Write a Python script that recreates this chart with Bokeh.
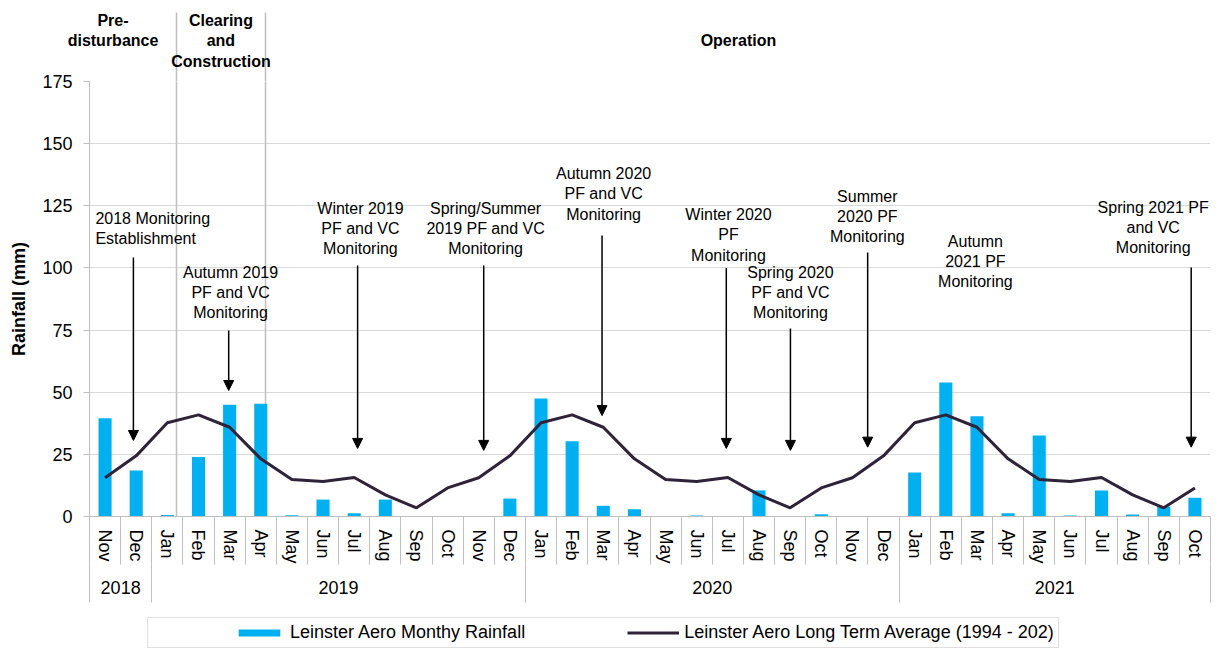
from bokeh.plotting import figure
from bokeh.layouts import column
from bokeh.models import (Range1d, LinearAxis, FixedTicker, Grid, Legend, LegendItem,
                          Arrow, NormalHead, ColumnDataSource)
from bokeh.core.properties import value
from bokeh.embed import file_html
from bokeh.resources import INLINE

# ---------------- data ----------------
months = ["Nov", "Dec",
          "Jan", "Feb", "Mar", "Apr", "May", "Jun", "Jul", "Aug", "Sep", "Oct", "Nov", "Dec",
          "Jan", "Feb", "Mar", "Apr", "May", "Jun", "Jul", "Aug", "Sep", "Oct", "Nov", "Dec",
          "Jan", "Feb", "Mar", "Apr", "May", "Jun", "Jul", "Aug", "Sep", "Oct"]
years = ["2018", "2019", "2020", "2021"]
months_per_year = [2, 12, 12, 10]

rainfall = [39.5, 18.5,
            0.6, 23.9, 45.0, 45.4, 0.5, 6.8, 1.3, 6.8, 0.0, 0.0, 0.0, 7.2,
            47.5, 30.3, 4.3, 2.9, 0.2, 0.4, 0.0, 10.5, 0.0, 0.9, 0.0, 0.0,
            17.7, 53.9, 40.3, 1.3, 32.6, 0.4, 10.5, 0.8, 4.0, 7.5]
long_term_avg = [15.6, 24.4,
                 37.7, 40.9, 35.9, 23.2, 14.9, 14.1, 15.7, 8.7, 3.5, 11.5, 15.6, 24.4,
                 37.7, 40.9, 35.9, 23.2, 14.9, 14.1, 15.7, 8.7, 3.5, 11.5, 15.6, 24.4,
                 37.7, 40.9, 35.9, 23.2, 14.9, 14.1, 15.7, 8.7, 3.5, 11.5]
y_ticks = [0, 25, 50, 75, 100, 125, 150, 175]

# phases (top labels) and their divider positions (in month index units)
phase_labels = ["Pre-\ndisturbance", "Clearing\nand\nConstruction", "Operation"]
phase_extra_lines = [1, 0, 1]
phase_x = [0.255, 3.72, 20.34]
divider_x = [2.294, 5.152]

# monitoring annotations
ann_text = ["2018 Monitoring\nEstablishment",
            "Autumn 2019\nPF and VC\nMonitoring",
            "Winter 2019\nPF and VC\nMonitoring",
            "Spring/Summer\n2019 PF and VC\nMonitoring",
            "Autumn 2020\nPF and VC\nMonitoring",
            "Winter 2020\nPF\nMonitoring",
            "Spring 2020\nPF and VC\nMonitoring",
            "Summer\n2020 PF\nMonitoring",
            "Autumn\n2021 PF\nMonitoring",
            "Spring 2021 PF\nand VC\nMonitoring"]
ann_x = [-0.31, 4.03, 8.20, 12.22, 16.01, 20.02, 22.01, 24.48, 27.95, 33.66]
ann_y = [115.9, 90.1, 115.9, 115.9, 129.9, 113.4, 90.1, 120.7, 102.6, 116.3]
ann_align = ["left"] + ["center"] * 9

arrow_x = [0.91, 3.97, 8.11, 12.16, 15.96, 19.95, 22.01, 24.49, 34.88]
arrow_y0 = [104.2, 74.8, 101.0, 101.0, 113.0, 100.0, 75.6, 106.2, 100.2]
arrow_y1 = [30.6, 50.7, 27.4, 26.6, 40.6, 27.4, 26.6, 27.9, 27.9]

legend_labels = ["Leinster Aero Monthy Rainfall", "Leinster Aero Long Term Average (1994 - 202)"]

# ---------------- styles ----------------
FONT_NAME = "Liberation Sans"
FONT = value(FONT_NAME)
GRAY = "#BFBFBF"
BAR_COLOR = "#00B0F0"
LINE_COLOR = "#2E2339"
n = len(months)
x = list(range(n))
y_top = 175

# ---------------- main figure ----------------
p = figure(width=1218, height=606, output_backend="svg", toolbar_location=None,
           x_range=Range1d(-0.5, n - 0.5), y_range=Range1d(0, y_top),
           x_axis_type=None, y_axis_type=None,
           min_border_left=89, min_border_right=8, min_border_top=81, min_border_bottom=90)
p.outline_line_color = None
p.background_fill_color = "white"
p.border_fill_color = "white"

# y axis
yt = FixedTicker(ticks=y_ticks)
yaxis = LinearAxis(ticker=yt, axis_label="Rainfall (mm)",
                   axis_label_text_font=FONT_NAME, axis_label_text_font_size="18px",
                   axis_label_text_font_style="bold", axis_label_text_color="black",
                   axis_label_standoff=10,
                   major_label_text_font=FONT_NAME, major_label_text_font_size="18px",
                   major_label_text_color="black", major_label_standoff=11,
                   major_tick_out=6, major_tick_in=0, minor_tick_out=0, minor_tick_in=0,
                   major_tick_line_color=GRAY, axis_line_color=GRAY)
p.add_layout(yaxis, "left")
p.add_layout(Grid(dimension=1, ticker=yt, grid_line_color="#D9D9D9", grid_line_width=1))

# phase axis above the frame (labels + upper part of the dividers)
phase_axis = LinearAxis(ticker=FixedTicker(ticks=phase_x, minor_ticks=divider_x),
                        major_label_overrides={px: lab + "\n" * k for px, lab, k in
                                               zip(phase_x, phase_labels, phase_extra_lines)},
                        major_label_text_font=FONT_NAME, major_label_text_font_size="16px",
                        major_label_text_font_style="bold", major_label_text_color="black",
                        major_label_standoff=-57,
                        major_tick_out=0, major_tick_in=0, major_tick_line_color=None,
                        minor_tick_out=69, minor_tick_in=0,
                        minor_tick_line_color=GRAY, minor_tick_line_width=1.5,
                        axis_line_color=None)
p.add_layout(phase_axis, "above")

# month axis
boundaries = [i - 0.5 for i in range(n + 1)]
month_axis = LinearAxis(ticker=FixedTicker(ticks=x, minor_ticks=boundaries),
                        major_label_overrides={i: m for i, m in enumerate(months)},
                        major_label_orientation="vertical",
                        major_label_text_font=FONT_NAME, major_label_text_font_size="18px",
                        major_label_text_color="black", major_label_standoff=-35,
                        major_tick_out=0, major_tick_in=0,
                        minor_tick_out=48, minor_tick_in=0,
                        minor_tick_line_color=GRAY, minor_tick_line_width=1,
                        axis_line_color=GRAY, axis_line_width=1)
p.add_layout(month_axis, "below")

# year axis
year_bounds = [-0.5]
for k in months_per_year:
    year_bounds.append(year_bounds[-1] + k)
year_centers = [(year_bounds[i] + year_bounds[i + 1]) / 2 for i in range(len(years))]
year_axis = LinearAxis(ticker=FixedTicker(ticks=year_centers, minor_ticks=year_bounds),
                       major_label_overrides={c: y for c, y in zip(year_centers, years)},
                       major_label_text_font=FONT_NAME, major_label_text_font_size="18px",
                       major_label_text_color="black", major_label_standoff=-22,
                       major_tick_out=0, major_tick_in=0, major_tick_line_color=None,
                       minor_tick_out=36, minor_tick_in=2,
                       minor_tick_line_color=GRAY, axis_line_color=None)
p.add_layout(year_axis, "below")

# phase dividers (inside the frame)
p.segment(x0=divider_x, y0=[0] * len(divider_x), x1=divider_x, y1=[y_top] * len(divider_x),
          line_color=GRAY, line_width=1.5)

# data
bars = p.vbar(x=x, top=rainfall, width=0.42, fill_color=BAR_COLOR, line_color=None)
line = p.line(x=x, y=long_term_avg, line_color=LINE_COLOR, line_width=3)

# annotations
src = ColumnDataSource(dict(x=ann_x, y=ann_y, t=ann_text, a=ann_align))
p.text(x="x", y="y", text="t", text_align="a", text_baseline="middle", source=src,
       text_font=FONT, text_font_size="16px", text_color="black", text_line_height=1.2)

asrc = ColumnDataSource(dict(x=arrow_x, y0=arrow_y0, y1=arrow_y1))
p.add_layout(Arrow(end=NormalHead(size=10, fill_color="black", line_color="black"),
                   x_start="x", y_start="y0", x_end="x", y_end="y1", source=asrc,
                   line_color="black", line_width=1.5))

# ---------------- legend strip (same series, kept far outside its visible ranges) ----------------
q = figure(width=1218, height=42, output_backend="svg", toolbar_location=None,
           x_range=Range1d(1000, 1036), y_range=Range1d(1000, 1010),
           x_axis_type=None, y_axis_type=None, min_border=0)
q.outline_line_color = None
q.background_fill_color = "white"
q.border_fill_color = "white"
lb = q.vbar(x=x, top=rainfall, width=0.42, fill_color=BAR_COLOR, line_color=None)
ll = q.line(x=x, y=long_term_avg, line_color=LINE_COLOR, line_width=3)

legend = Legend(items=[LegendItem(label=legend_labels[0], renderers=[lb]),
                       LegendItem(label=legend_labels[1], renderers=[ll])],
                orientation="horizontal", location=(58, 0), margin=0,
                glyph_width=52, glyph_height=9, label_standoff=5,
                spacing=102, padding=4,
                title=" ", title_location="left", title_text_font_size="10px", title_standoff=70,
                label_text_font=FONT_NAME, label_text_font_size="18px", label_text_color="black",
                border_line_color=GRAY, border_line_width=1.5,
                background_fill_color="white", background_fill_alpha=1.0)
q.add_layout(legend)

layout = column(p, q, spacing=0)
open("out.html", "w").write(file_html(layout, INLINE))
